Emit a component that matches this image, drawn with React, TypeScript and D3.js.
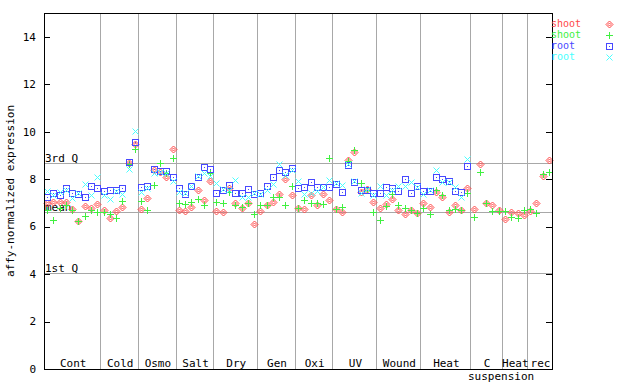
import React from "react";
import * as d3 from "d3";

const groupNames = ["Cont", "Cold", "Osmo", "Salt", "Dry", "Gen", "Oxi", "UV", "Wound", "Heat", "C", "Heat", "rec"];
const groupCounts = [9, 6, 6, 6, 7, 6, 6, 7, 7, 8, 5, 4, 4];

const shootA: (number | null)[] = [
  7.01, 7.02, 7.02, 7.02, 6.76, 6.24, 6.87, 6.80, 6.94,
  6.70, 6.38, 6.66, 6.81, 8.70, 9.48,
  6.73, 7.19, 8.39, 8.32, 8.08, 9.26,
  6.70, 6.66, 6.81, 7.54, 7.12, 7.92,
  6.66, 6.63, 7.61, 6.98, 6.77, 6.98, 6.11,
  6.66, 6.91, 7.04, 7.36, 7.99, 7.33,
  6.77, 6.73, 7.32, 6.90, 7.37, 7.12,
  6.73, 6.63, 8.81, 9.16, 7.45, 7.60, 7.02,
  6.80, 6.95, 7.15, 6.70, 6.53, 6.70, 6.56,
  6.98, 6.81, 7.47, 7.26, 6.62, 6.91, 6.70, 7.61,
  6.73, 8.64, 7.01, 6.91, 6.70,
  6.32, 6.63, 6.56, 6.49,
  6.67, 7.01, 8.15, 8.81,
];
const shootB: (number | null)[] = [
  6.72, 6.28, 6.80, 6.91, 6.70, 6.24, 6.46, 6.71, 6.63,
  6.63, 6.52, 6.35, 7.08, 8.65, 9.27,
  7.08, 6.70, 7.75, 8.67, 8.24, 8.88,
  6.98, 6.95, 7.05, 7.15, 6.91, 8.27,
  7.05, 7.01, 7.47, 6.91, 6.84, 7.01, 6.53,
  6.91, 6.91, 7.23, 7.26, 6.90, 7.71,
  6.77, 7.12, 7.01, 6.98, 6.95, 8.88,
  6.73, 6.81, 8.75, 9.23, 7.83, 7.55, 6.63,
  6.28, 6.87, 7.38, 6.91, 6.77, 6.70, 6.56,
  6.77, 6.52, 7.54, 7.33, 6.70, 6.73, 6.70, 7.40,
  6.39, 8.29, 7.00, 6.66, 6.66,
  6.66, 6.42, 6.35, 6.70,
  6.74, 6.56, 8.22, 8.29,
];
const rootA: (number | null)[] = [
  7.24, 7.40, 7.33, 7.64, 7.40, 7.36, 7.24, 7.70, 7.61,
  7.51, 7.54, 7.54, 7.61, 8.74, 9.58,
  7.66, 7.71, 8.41, 8.34, 8.36, 8.08,
  7.61, 7.37, 7.71, 8.10, 8.50, 8.42,
  7.40, 7.54, 7.75, 7.40, 7.40, 7.57, 7.37,
  7.43, 7.71, 8.10, 8.39, 8.32, 8.46,
  7.61, 7.66, 7.88, 7.66, 7.66, 7.68,
  7.80, 7.45, 8.60, 7.89, 7.54, 7.54, 7.43,
  7.43, 7.66, 7.61, 7.50, 7.99, 7.40, 7.71,
  7.50, 7.52, 8.08, 7.99, 7.94, 7.52, 7.47, 8.55,
  null, null, null, null, null,
  null, null, null, null,
  null, null, null, null,
];
const rootB: (number | null)[] = [
  7.50, 7.33, 7.47, 7.54, 7.19, 7.40, 7.80, 7.35, 8.08,
  7.33, 7.16, 7.52, 7.36, 8.41, 10.03,
  7.47, 7.61, 8.24, 8.32, 8.24, 7.94,
  7.47, 7.40, 7.71, 8.12, 8.25, 8.13,
  7.82, 7.60, 7.55, 7.96, 7.26, 7.26, 7.43,
  7.37, 7.54, 7.80, 8.62, 8.17, 8.39,
  7.94, 7.37, 7.43, 7.52, 7.68, 7.96,
  7.82, 7.75, 8.62, 7.92, 7.40, 7.58, 7.33,
  7.71, 7.33, 7.54, 7.71, 7.71, 7.89, 7.68,
  7.37, 7.54, 8.39, 7.89, 7.89, 7.68, 7.26, 8.84,
  null, null, null, null, null,
  null, null, null, null,
  null, null, null, null,
];

const yTicks = [0, 2, 4, 6, 8, 10, 12, 14];
const refLines = [
  { label: "3rd Q", value: 8.67 },
  { label: "mean", value: 6.62 },
  { label: "1st Q", value: 4.06 },
];
const legendLabels = ["shoot", "shoot", "root", "root"];

const COLORS = ["#ff4848", "#40f040", "#4848ff", "#48ffff"];
const FONT = "'DejaVu Sans Mono', monospace";
const GRID = "#a8a8a8";

function Marker({ kind, x, y, color }: { kind: number; x: number; y: number; color: string }) {
  const cx = Math.round(x) + 0.5;
  const cy = Math.round(y) + 0.5;
  if (kind === 0) {
    return (
      <g stroke={color} fill="none" strokeWidth={1}>
        <path d={`M${cx},${cy - 3.5}L${cx + 3.5},${cy}L${cx},${cy + 3.5}L${cx - 3.5},${cy}Z`} />
        <path d={`M${cx},${cy - 1.5}L${cx + 1.5},${cy}L${cx},${cy + 1.5}L${cx - 1.5},${cy}Z`} />
      </g>
    );
  }
  if (kind === 1) {
    return (
      <path
        d={`M${cx - 3.5},${cy}H${cx + 3.5}M${cx},${cy - 3.5}V${cy + 3.5}`}
        stroke={color}
        strokeWidth={1}
      />
    );
  }
  if (kind === 2) {
    return (
      <g>
        <rect x={cx - 3} y={cy - 3} width={6} height={6} fill="none" stroke={color} strokeWidth={1} />
        <rect x={cx - 0.5} y={cy - 0.5} width={1} height={1} fill={color} />
      </g>
    );
  }
  return (
    <path
      d={`M${cx - 3},${cy - 3}L${cx + 3},${cy + 3}M${cx - 3},${cy + 3}L${cx + 3},${cy - 3}`}
      stroke={color}
      strokeWidth={1}
    />
  );
}

export default function App() {
  const W = 640;
  const H = 384;
  const left = 44;
  const right = 552;
  const top = 13;
  const bottom = 369;
  const total = d3.sum(groupCounts);
  const x = d3.scaleLinear().domain([0, total]).range([left, right]);
  const y = d3.scaleLinear().domain([0, 15]).range([bottom, top]);

  const bounds: number[] = [];
  let acc = 0;
  groupCounts.forEach((c) => {
    bounds.push(acc);
    acc += c;
  });

  const series = [shootA, shootB, rootA, rootB];

  return (
    <svg width={W} height={H} style={{ position: "absolute", left: 0, top: 0, background: "#fff" }}>
      <rect width={W} height={H} fill="#fff" />
      {bounds.slice(1).map((b, i) => (
        <line key={"s" + i} x1={Math.round(x(b)) + 0.5} x2={Math.round(x(b)) + 0.5} y1={top} y2={bottom} stroke={GRID} strokeWidth={1} />
      ))}
      {refLines.map((r) => (
        <g key={r.label}>
          <line x1={left} x2={right} y1={Math.round(y(r.value)) + 0.5} y2={Math.round(y(r.value)) + 0.5} stroke={GRID} strokeWidth={1} />
          <text x={left + 1} y={Math.round(y(r.value)) - 1} fontFamily={FONT} fontSize={11} fill="#000">
            {r.label}
          </text>
        </g>
      ))}
      {series.map((s, k) =>
        s.map((v, i) =>
          v == null ? null : <Marker key={`${k}-${i}`} kind={k} x={x(i + 0.5)} y={y(v)} color={COLORS[k]} />
        )
      )}
      <rect x={left + 0.5} y={top + 0.5} width={right - left} height={bottom - top} fill="none" stroke="#000" strokeWidth={1} />
      {yTicks.map((t) => (
        <g key={"t" + t}>
          <line x1={left} x2={left + 6} y1={Math.round(y(t)) + 0.5} y2={Math.round(y(t)) + 0.5} stroke="#000" />
          <line x1={right - 6} x2={right} y1={Math.round(y(t)) + 0.5} y2={Math.round(y(t)) + 0.5} stroke="#000" />
          <text x={36} y={y(t)} dy="0.35em" textAnchor="end" fontFamily={FONT} fontSize={11} fill="#000">
            {t}
          </text>
        </g>
      ))}
      {groupNames.map((g, i) => (
        <text
          key={"g" + i}
          x={(x(bounds[i]) + x(bounds[i] + groupCounts[i])) / 2 + 1}
          y={367}
          textAnchor="middle"
          fontFamily={FONT}
          fontSize={11}
          fill="#000"
        >
          {g}
        </text>
      ))}
      <text x={468} y={380} fontFamily={FONT} fontSize={11} fill="#000">
        suspension
      </text>
      <text
        transform={`translate(14,${(top + bottom) / 2}) rotate(-90)`}
        textAnchor="middle"
        fontFamily={FONT}
        fontSize={11}
        fill="#000"
      >
        affy-normalized expression
      </text>
      {legendLabels.map((l, k) => (
        <g key={"l" + k}>
          <text x={551} y={23.5 + k * 11} dy="0.35em" fontFamily={FONT} fontSize={10} fill={COLORS[k]}>
            {l}
          </text>
          <Marker kind={k} x={609} y={23.5 + k * 11} color={COLORS[k]} />
        </g>
      ))}
    </svg>
  );
}
